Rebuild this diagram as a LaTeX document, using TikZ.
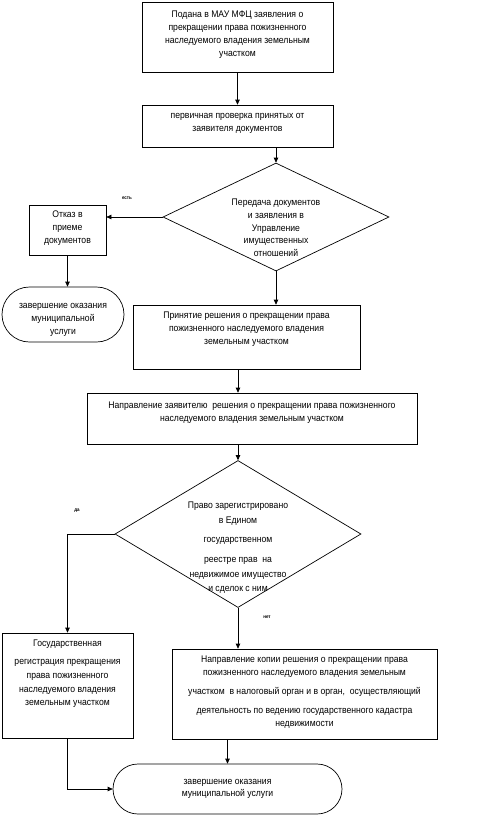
\documentclass[tikz,border=0pt]{standalone}
\usepackage{fontspec}
\newfontfamily\lsf{Liberation Sans}[FakeStretch=0.9]
\usetikzlibrary{shapes.geometric,shapes.misc,arrows.meta,calc}
\newcommand\ovl[3]{\makebox[0pt]{\raisebox{#1}[0pt][0pt]{\parbox{#2}{\centering #3}}}}
\begin{document}
\begin{tikzpicture}[x=1pt,y=-1pt,
 every node/.style={font=\lsf\fontsize{9.6}{12.8}\selectfont, inner sep=0pt},
 box/.style={draw, rectangle, line width=0.7pt},
 dia/.style={draw, diamond, line width=0.7pt},
 term/.style={draw, rounded rectangle, line width=0.7pt},
 arr/.style={line width=0.7pt, -{Triangle[length=5pt,width=4.5pt]}},
 lbl/.style={font=\lsf\fontsize{5}{6}\selectfont\bfseries}]
\useasboundingbox (0,0) rectangle (484,831);

\node[box, minimum width=191pt, minimum height=70pt] (b1) at (237.5,37)
 {\ovl{0pt}{185pt}{Подана в МАУ МФЦ заявления о\\прекращении права пожизненного\\наследуемого владения земельным\\участком}};
\node[box, minimum width=191pt, minimum height=42pt] (b2) at (237.5,126)
 {\ovl{0.1pt}{185pt}{первичная проверка принятых от\\заявителя документов}};
\node[dia, minimum width=226pt, minimum height=108pt] (d1) at (276,217)
 {\ovl{-13.4pt}{150pt}{Передача документов\\и заявления в\\Управление\\имущественных\\отношений}};
\node[box, minimum width=77pt, minimum height=50pt] (ot) at (67.5,230)
 {\ovl{-0.9pt}{75pt}{Отказ в\\приеме\\документов}};
\node[term, minimum width=122pt, minimum height=55pt] (o1) at (63,314.5)
 {\ovl{-7.9pt}{120pt}{завершение оказания\\муниципальной\\услуги}};
\node[box, minimum width=227pt, minimum height=64pt] (b3) at (246.5,337)
 {\ovl{5.6pt}{220pt}{Принятие решения о прекращении права\\пожизненного наследуемого владения\\земельным участком}};
\node[box, minimum width=330pt, minimum height=51pt] (b4) at (252,418.5)
 {\ovl{3.1pt}{325pt}{Направление заявителю\ \ решения о прекращении права пожизненного\\наследуемого владения земельным участком}};
\node[dia, minimum width=246pt, minimum height=147pt] (d2) at (238,534)
 {\ovl{-15.9pt}{160pt}{Право зарегистрировано\\[2.5pt]в Едином\\[5.5pt]государственном\\[7.5pt]реестре прав\ \ на\\[2.5pt]недвижимое имущество\\[0.5pt]и сделок с ним}};
\node[box, minimum width=131pt, minimum height=105pt] (b5) at (67.5,685.5)
 {\ovl{9.6pt}{128pt}{Государственная\\[6pt]регистрация прекращения\\[1pt]права пожизненного\\[1pt]наследуемого владения\\земельным участком}};
\node[box, minimum width=265pt, minimum height=90pt] (b6) at (304.5,694)
 {\ovl{-0.9pt}{262pt}{Направление копии решения о прекращении права\\пожизненного наследуемого владения земельным\\[6pt]участком\ \ в налоговый орган и в орган,\ \ осуществляющий\\[6pt]деятельность по ведению государственного кадастра\\[1pt]недвижимости}};
\node[term, minimum width=229pt, minimum height=50pt] (o2) at (227.5,789)
 {\ovl{-2.4pt}{220pt}{завершение оказания\\муниципальной услуги}};

\node[lbl] (l1) at (127,198) {есть};
\node[lbl] (l2) at (77,511) {да};
\node[lbl] (l3) at (267,617) {нет};

\draw[arr] (b1.south) -- (b2.north);
\draw[arr] (d1.north |- b2.south) -- (d1.north);
\draw[arr] (d1.west) -- (d1.west -| ot.east);
\draw[arr] (ot.south) -- (ot.south |- o1.north);
\draw[arr] (d1.south) -- (d1.south |- b3.north);
\draw[arr] (d2.north |- b3.south) -- (d2.north |- b4.north);
\draw[arr] (d2.north |- b4.south) -- (d2.north);
\draw[arr] (d2.west) -| (b5.north);
\draw[arr] (d2.south) -- (d2.south |- b6.north);
\draw[arr] (o2.north |- b6.south) -- (o2.north);
\draw[arr] (b5.south) |- (o2.west);
\end{tikzpicture}
\end{document}
